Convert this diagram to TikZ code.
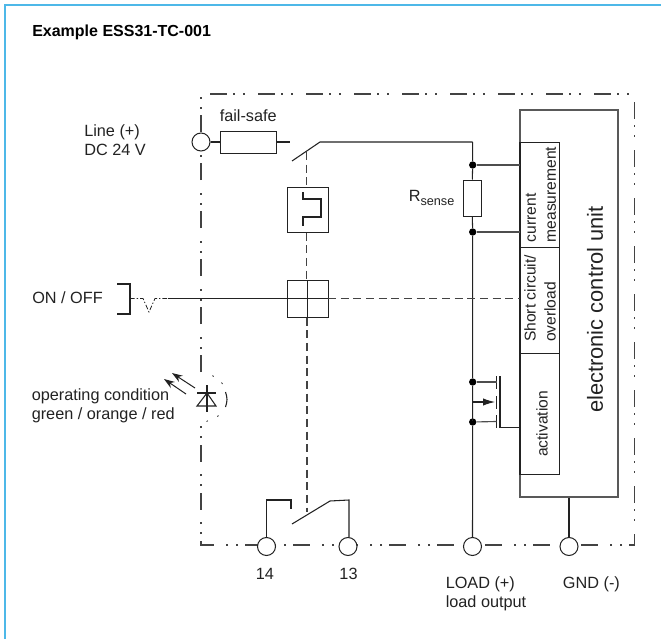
\documentclass[tikz,border=0pt]{standalone}
\usepackage{fontspec}
\setmainfont{Liberation Sans}
\usetikzlibrary{arrows.meta}
\definecolor{frameblue}{HTML}{4DB8E8}
\definecolor{ink}{HTML}{222222}
\tikzset{
  x=0.75pt,y=-0.75pt,
  wire/.style={draw=ink,line width=0.8pt},
  wiregray/.style={draw=ink!80,line width=0.85pt},
  thin wire/.style={draw=ink,line width=0.6pt},
  border/.style={draw=ink!85,line width=0.9pt,dash pattern=on 12.4pt off 5.2pt on 1.2pt off 6.3pt on 1.2pt off 9.7pt},
  dashline/.style={draw=ink!85,line width=0.8pt,dash pattern=on 6pt off 3.5pt},
  terminal/.style={circle,draw=ink,line width=0.75pt,fill=white,minimum size=13.5pt,inner sep=0pt},
  joint/.style={circle,fill=black,minimum size=5.5pt,inner sep=0pt},
  box/.style={rectangle,draw=ink,line width=0.75pt,inner sep=0pt,fill=white},
  lbl/.style={font=\fontsize{12.2pt}{14.2pt}\selectfont,text=ink,inner sep=0pt,align=left},
  boxlbl/.style={font=\fontsize{11.7pt}{15pt}\selectfont,text=ink,inner sep=0pt,align=left,rotate=90,anchor=center},
  led arrow/.style={draw=ink,line width=0.75pt,-{Stealth[length=8pt,width=5.5pt]}},
}
\begin{document}
\begin{tikzpicture}
\useasboundingbox (0,0) rectangle (661,639);
% outer blue frame
\draw[frameblue,line width=1.6pt] (5,639) -- (5,5) -- (661,5);
\node[anchor=west,inner sep=0pt,text=black,font=\fontsize{12pt}{14pt}\selectfont\bfseries] (title) at (32,32) {Example ESS31-TC-001};
% enclosure corners
\coordinate (tl) at (210,94);
\coordinate (tr) at (632,94);
\coordinate (rt) at (634.5,102);
\coordinate (br) at (634.5,545);
\coordinate (bl) at (201,545);
\coordinate (e1) at (201,372);
\coordinate (e2) at (201,423);
\coordinate (e3) at (201,95);
\draw[border] (tl) -- (tr);
\draw[border] (rt) -- (br) -- (bl) -- (e2);
\draw[border] (e1) -- (e3);
% terminals
\node[terminal] (tline) at (201,142) {};
\node[terminal] (t14) at (266.5,546.5) {};
\node[terminal] (t13) at (348,546.5) {};
\node[terminal] (tload) at (472.5,546.5) {};
\node[terminal] (tgnd) at (569,546.5) {};
% fuse
\coordinate (fuseout) at (290,142);
\coordinate (swA) at (292,161);
\coordinate (swB) at (320,142);
\coordinate (top) at (472.7,142);
\draw[wire] (tline.east) -- (fuseout);
\node[box,minimum width=41.5pt,minimum height=16pt] (fuse) at (248.5,142.5) {};
\draw[wire] (tline.east) -- (fuse.west);
\draw[wire] (fuse.east |- fuseout) -- (fuseout);
\node[lbl,anchor=west] (failsafe) at (219.5,116) {fail-safe};
\draw[wire] (swA) -- (swB) -- (top);
\node[joint] (j1) at (472.7,165) {};
\node[box,minimum width=13.5pt,minimum height=27pt] (rsense) at (472.3,198) {};
\node[joint] (j2) at (472.7,232) {};
\draw[wire] (top) -- (j1) -- (rsense.north);
\draw[wire] (rsense.south) -- (j2);
\node[lbl,anchor=west] (rlabel) at (408.5,198) {R{\fontsize{9.5pt}{11pt}\selectfont\raisebox{-3pt}{sense}}};
% electronic control unit
\node[rectangle,draw=ink!75,line width=0.8pt,minimum width=73.5pt,minimum height=290.25pt,inner sep=0pt] (ecu) at (569,303.5) {};
\node[lbl,rotate=90,font=\fontsize{16.4pt}{19pt}\selectfont] (ecul) at (595,309.5) {electronic control unit};
\node[box,minimum width=29.5pt,minimum height=78.75pt] (cm) at (539.75,194.5) {};
\node[box,minimum width=29.5pt,minimum height=79.5pt] (sc) at (539.75,300) {};
\node[box,minimum width=29.5pt,minimum height=90.75pt] (ac) at (539.75,413.5) {};
\node[boxlbl] (cml) at (541,194.5) {current\\measurement};
\node[boxlbl] (scl) at (540,298.5) {Short circuit/\\overload};
\node[boxlbl] (acl) at (542,424) {activation};
\draw[draw=ink,line width=1.4pt] (cm.north west) -- (ac.south west);
\draw[wiregray] (j1) -- (cm.north west |- j1);
\draw[wiregray] (j2) -- (cm.north west |- j2);
% main vertical
\node[joint] (j3) at (472.7,382) {};
\node[joint] (j4) at (472.7,422) {};
\draw[wire] (j2) -- (j3) -- (j4) -- (tload.north);
% mosfet
\coordinate (gbot) at (500,427.5);
\coordinate (gtop) at (500,376);
\coordinate (gate) at (520,427.5);
\draw[wire] (gtop) -- (gbot) -- (gate);
\draw[wire] (496.5,376) -- (496.5,389);
\draw[wire] (496.5,396) -- (496.5,409);
\draw[wire] (496.5,415) -- (496.5,428);
\draw[wiregray] (j3) -- (496.5,382);
\draw[wiregray] (j4) -- (496.5,421.5);
\draw[wire,-{Latex[length=9pt,width=5.5pt]}] (472.7,421) -- (472.7,402) -- (495,402);
% thermal relay box
\node[box,minimum width=30.75pt,minimum height=33.75pt] (therm) at (307.5,209.5) {};
\draw[wire] (303,192) -- (303,199) -- (321,199) -- (321,217) -- (303,217) -- (303,226);
% crossing box
\node[box,minimum width=30.75pt,minimum height=27.75pt] (cross) at (307.5,298.5) {};
\coordinate (onoffa) at (168,298.5);
\coordinate (onoffb) at (130,298.5);
\coordinate (vee) at (149,312);
\draw[wire] (onoffa) -- (cross.west |- onoffa) -- (cross.east |- onoffa);
\draw[wire] (307.5,280) -- (307.5,317);
\draw[dashline] (328,298.5) -- (cm.west |- 0,298.5);
% ON/OFF
\draw[wire] (117,284) -- (130,284) -- (130,314) -- (117,314);
\draw[thin wire,dash pattern=on 3.5pt off 1.5pt on 1pt off 1.5pt] (onoffb) -- (143,298.5) -- (vee) -- (155,298.5) -- (onoffa);
\node[lbl,anchor=west] (onoff) at (32,298) {ON / OFF};
\node[lbl,anchor=west] (linelab) at (84,140) {Line (+)\\DC 24 V};
% mechanical linkage
\draw[dashline] (306.5,152) -- (therm.north -| 306.5,0);
\draw[dashline] (therm.south -| 306.5,0) -- (cross.north -| 306.5,0);
\draw[dashline] (cross.south -| 307,0) -- (307,512);
% lower switch
\coordinate (lsA) at (292,524);
\coordinate (lsB) at (330,501);
\coordinate (lsC) at (349,500);
\draw[wire] (lsA) -- (lsB) -- (lsC) -- (t13.north -| lsC);
\draw[wire] (t14.north) -- (266.5,500) -- (291,500) -- (291,509);
% gnd
\draw[wire] (ecu.south -| tgnd) -- (tgnd.north);
% LED
\coordinate (ledT) at (207,385);
\coordinate (ledB) at (207,412);
\draw[wire] (ledT) -- (ledB);
\draw[wire] (197,393) -- (216,393);
\draw[wire] (207,393) -- (197,406) -- (216,406) -- cycle;
\draw[wire] (225.5,392) .. controls (227.5,398) and (227.5,401) .. (225.5,407);
\draw[thin wire] (212.5,375.5) -- (213.5,376.5);
\draw[thin wire] (221.5,382.5) -- (222.5,384);
\draw[thin wire] (217.5,416.5) -- (218.5,415.5);
\draw[thin wire] (206.5,421.5) -- (208,420.8);
\draw[led arrow] (195,388) -- (172,373);
\draw[led arrow] (186,394) -- (164,379);
\node[lbl,anchor=west] (oplab) at (31.5,405.5) {operating condition\\green / orange / red};
% bottom labels
\node[lbl] (l14) at (265,574) {14};
\node[lbl] (l13) at (348.5,574) {13};
\node[lbl,anchor=west] (lload) at (445.5,593.5) {LOAD (+)\\load output};
\node[lbl,anchor=west] (lgnd) at (562.7,584) {GND (-)};
\end{tikzpicture}
\end{document}
